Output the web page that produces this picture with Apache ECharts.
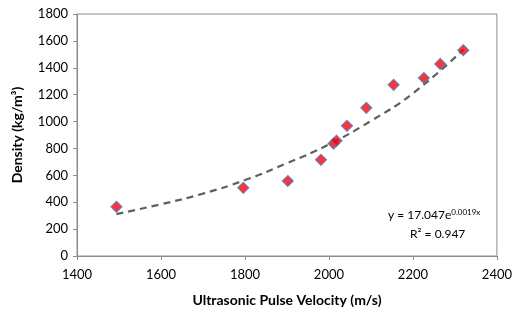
<!DOCTYPE html>
<html>
<head>
<meta charset="utf-8">
<script src="https://cdn.jsdelivr.net/npm/echarts@6/dist/echarts.min.js"></script>
<style>
  html, body { margin: 0; padding: 0; background: #fff; }
  #chart { width: 515px; height: 312px; }
</style>
</head>
<body>
<div id="chart"></div>
<script>
// measured points (velocity m/s, density kg/m3)
const velocity = [1494, 1796, 1902, 1981, 2011, 2018, 2043, 2089, 2154, 2226, 2265, 2320]
const density = [366, 507, 558, 715, 836, 858, 968, 1102, 1273, 1324, 1429, 1531]

// exponential trendline
const trendX = [1494, 1600, 1700, 1800, 1900, 2000, 2100, 2200, 2320]
const trendY = [312, 385, 464, 565, 690, 830, 1005, 1210, 1535]

const eqText = 'y = 17.047e'
const eqExp = '0.0019x'
const r2Text = 'R² = 0.947'

const font = 'Lato'
const chart = echarts.init(document.getElementById('chart'))

chart.setOption({
  animation: false,
  textStyle: { fontFamily: font },
  grid: {
    left: 77,
    right: 16,
    top: 14,
    bottom: 52,
    show: true,
    borderColor: '#8c8c8c',
    borderWidth: 1
  },
  xAxis: {
    type: 'value',
    min: 1400,
    max: 2400,
    interval: 200,
    name: 'Ultrasonic Pulse Velocity (m/s)',
    nameLocation: 'middle',
    nameGap: 37,
    nameTextStyle: { fontSize: 14, fontWeight: 'bold', color: '#000', fontFamily: font },
    axisLine: { lineStyle: { color: '#8c8c8c' } },
    axisTick: { length: 4, lineStyle: { color: '#8c8c8c' } },
    axisLabel: { fontSize: 13, color: '#000', margin: 12, formatter: v => String(v) },
    splitLine: { show: false }
  },
  yAxis: {
    type: 'value',
    min: 0,
    max: 1800,
    interval: 200,
    name: 'Density (kg/m³)',
    nameLocation: 'middle',
    nameGap: 53,
    nameTextStyle: { fontSize: 14, fontWeight: 'bold', color: '#000', fontFamily: font },
    axisLine: { show: true, lineStyle: { color: '#8c8c8c' } },
    axisTick: { show: true, length: 4, lineStyle: { color: '#8c8c8c' } },
    axisLabel: { fontSize: 13, color: '#000', margin: 9, formatter: v => String(v) },
    splitLine: { show: false }
  },
  series: [
    {
      type: 'line',
      data: trendX.map((x, i) => [x, trendY[i]]),
      smooth: true,
      showSymbol: false,
      lineStyle: { color: '#5f5f5f', width: 2.2, type: [7, 5] },
      z: 2
    },
    {
      type: 'scatter',
      data: velocity.map((x, i) => [x, density[i]]),
      symbol: 'diamond',
      symbolSize: 11,
      itemStyle: { color: '#ff0000', borderColor: '#4f7ac4', borderWidth: 1.2 },
      z: 3
    }
  ],
  graphic: [
    {
      type: 'text',
      left: 388,
      top: 208,
      style: {
        text: '{a|' + eqText + '}{b|' + eqExp + '}',
        rich: {
          a: { fontSize: 12, fontFamily: font, fill: '#000' },
          b: { fontSize: 8, fontFamily: font, fill: '#000', verticalAlign: 'top', padding: [0, 0, 6, 0] }
        }
      }
    },
    {
      type: 'text',
      left: 410,
      top: 228,
      style: { text: r2Text, fontSize: 12, fontFamily: font, fill: '#000' }
    }
  ]
})
</script>
</body>
</html>
